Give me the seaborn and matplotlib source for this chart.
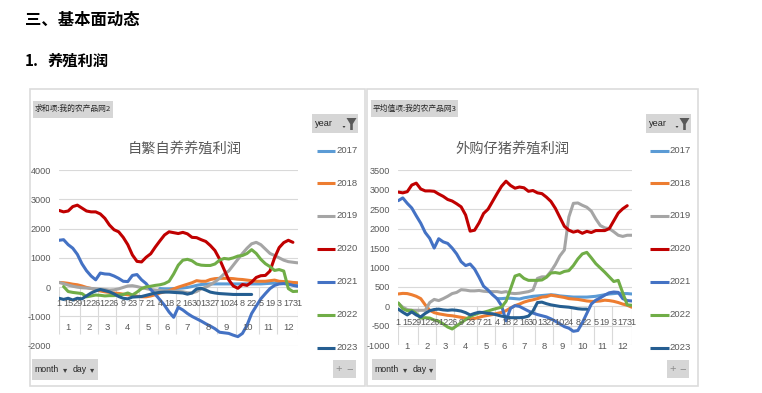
import numpy as np
import pandas as pd
import matplotlib
matplotlib.use("Agg")
import matplotlib.pyplot as plt
import seaborn as sns
from matplotlib import font_manager
from matplotlib.patches import Rectangle, Polygon
from matplotlib.lines import Line2D

nan = np.nan

# ---------------- data ----------------
years = ['2017', '2018', '2019', '2020', '2021', '2022', '2023']
colors = ['#5B9BD5', '#ED7D31', '#A5A5A5', '#C00000', '#4472C4', '#70AD47', '#255E91']

week_month = [1]*5 + [2]*4 + [3]*4 + [4]*5 + [5]*4 + [6]*4 + [7]*5 + [8]*4 + [9]*4 + [10]*5 + [11]*4 + [12]*5
week_day = [1, 8, 15, 22, 29, 5, 12, 19, 26, 5, 12, 19, 26, 2, 9, 16, 23, 30, 7, 14, 21, 28,
            4, 11, 18, 25, 2, 9, 16, 23, 30, 6, 13, 20, 27, 3, 10, 17, 24, 1, 8, 15, 22, 29,
            5, 12, 19, 26, 3, 10, 17, 24, 31]

# chart 1: 自繁自养养殖利润
self_2017 = [nan]*22 + [-50, -60, -60, -50, -40, -30, -10, 20, 60, 90, 100, 110, 110, 110, 110, 110,
                        110, 110, 110, 110, 110, 110, 110, 120, 130, 140, 150, 150, 140, 130, 120]
self_2018 = [160, 150, 130, 100, 80, 40, -10, -45, -90, -130,
             -160, -180, -200, -215, -240, -260, -280, -310, -330, -330,
             -300, -260, -200, -160, -120, -60, 0, 50, 100, 150,
             220, 200, 200, 260, 290, 300, 300, 300, 290, 270,
             260, 240, 220, 200, 200, 200, 220, 240, 200, 190,
             180, 160, 150]
self_2019 = [160, 120, 70, 30, 0, -20, -30, -45, -55, -70,
             -80, -100, -90, -60, -10, 40, 50, 20, -20, -50,
             -80, -100, -115, -125, -135, -140, -145, -160, -190, -200,
             -150, -60, 0, 80, 180, 300, 450, 550, 750, 950,
             1150, 1330, 1480, 1530, 1450, 1300, 1150, 1080, 1000, 920,
             870, 850, 830]
self_2020 = [2620, 2570, 2600, 2750, 2800, 2700, 2600, 2570, 2570, 2500,
             2350, 2120, 1960, 1890, 1700, 1450, 1100, 880, 860, 1020,
             1140, 1370, 1580, 1780, 1890, 1860, 1830, 1870, 1820, 1700,
             1690, 1620, 1560, 1420, 1250, 960, 600, 250, 40, -40,
             90, 60, 170, 330, 390, 400, 550, 1000, 1350, 1520,
             1600, 1530, nan]
self_2021 = [1600, 1620, 1450, 1330, 1120, 800, 560, 380, 250, 480,
             450, 440, 380, 300, 200, 190, 400, 430, 250, 120,
             -80, -250, -430, -620, -850, -1030, -690, -780, -900, -1000,
             -1080, -1160, -1250, -1330, -1420, -1540, -1560, -1580, -1640, -1690,
             -1580, -1300, -900, -650, -400, -220, -50, 60, 110, 120,
             100, 60, 30]
self_2022 = [nan, 20, -150, -180, -200, -220, -330, -300, -270, -280,
             -300, -290, -290, -270, -250, -200, -270, -170, -50, 10,
             30, 60, 80, 120, 200, 450, 750, 920, 950, 900,
             790, 750, 740, 740, 790, 920, 980, 960, 1000, 1060,
             1080, 1150, 1280, 1150, 950, 800, 700, 570, 600, 550,
             -50, -150, -140]
self_2023 = [-380, -420, -380, -440, -380, -400, -300, -200, -130, -80,
             -120, -160, -230, -320, -380, -400, -340, -330, -320, -280,
             -240, -200, -180, -170, -170, -180, -190, -200, -240, -200,
             -60, -40, -100, -170, -200, -220, -230, -240, -250, -250,
             -250, -250, -250] + [nan]*10

# chart 2: 外购仔猪养殖利润
buy_2017 = [nan]*22 + [200, 200, 210, 210, 200, 190, 220, 240, 260, 270, 280, 290, 300, 290, 270, 260,
                       250, 240, 240, 240, 240, 250, 260, 280, 300, 320, 330, 340, 330, 330, 320]
buy_2018 = [320, 335, 330, 300, 260, 200, 40, -100, -160, -190,
            -210, -230, -240, -260, -280, -300, -320, -310, -280, -250,
            -230, -210, -180, -155, -110, -40, 20, 60, 110, 145,
            170, 200, 240, 250, 290, 270, 250, 230, 200, 190,
            180, 160, 140, 130, 130, 140, 160, 150, 130, 100,
            60, 30, -20]
buy_2019 = [80, -20, -80, -100, -100, -100, -100, 100, 180, 150,
            200, 260, 330, 360, 430, 420, 400, 400, 410, 390,
            380, 380, 380, 360, 380, 340, 330, 340, 360, 380,
            420, 720, 760, 760, 900, 1080, 1300, 1450, 2300, 2650,
            2660, 2600, 2550, 2450, 2250, 2080, 2020, 2000, 1920, 1830,
            1800, 1830, 1830]
buy_2020 = [2940, 2920, 2950, 3120, 3170, 3020, 2970, 2970, 2960, 2890,
            2830, 2750, 2710, 2640, 2560, 2350, 1935, 1960, 2150, 2390,
            2500, 2700, 2900, 3090, 3220, 3110, 3040, 3070, 3050, 2960,
            2980, 2920, 2900, 2810, 2700, 2520, 2290, 2060, 1960, 1910,
            1940, 1880, 1930, 1900, 1950, 1950, 1950, 2000, 2200, 2400,
            2510, 2590, nan]
buy_2021 = [2720, 2790, 2650, 2530, 2330, 2140, 1900, 1750, 1500, 1740,
            1660, 1620, 1500, 1350, 1150, 1050, 1090, 960, 750, 520,
            420, 300, 200, 20, -370, -50, 20, 0, -60, -120,
            -170, -210, -240, -270, -320, -380, -450, -520, -560, -640,
            -620, -420, -180, 60, 160, 220, 290, 350, 370, 360,
            200, 150, 140]
buy_2022 = [90, -60, -110, -100, -180, -300, -290, -300, -350, -380,
            -450, -530, -580, -500, -420, -340, -260, -210, -170, -150,
            -120, -80, -50, -20, 130, 450, 780, 820, 720, 670,
            670, 670, 680, 750, 860, 870, 850, 900, 920, 1050,
            1220, 1350, 1390, 1250, 1100, 990, 880, 760, 640, 670,
            350, 40, 30]
buy_2023 = [-70, -150, -220, -140, -220, -270, -180, -110, -80, -70,
            -90, -100, -90, -100, -120, -160, -220, -180, -150, -160,
            -180, -190, -220, -250, -270, -290, -290, -290, -280, -250,
            -120, 100, 110, 70, 40, 20, 0, -10, -20, -40,
            -60, -70, -70] + [nan]*10

self_series = [self_2017, self_2018, self_2019, self_2020, self_2021, self_2022, self_2023]
buy_series = [buy_2017, buy_2018, buy_2019, buy_2020, buy_2021, buy_2022, buy_2023]

# ---------------- style ----------------
sns.set_theme(style="white")
avail = {f.name for f in font_manager.fontManager.ttflist}
narrow = next((n for n in ['Liberation Sans Narrow', 'DejaVu Sans Condensed', 'Liberation Sans']
               if n in avail), 'DejaVu Sans')
CJK = 'Noto Sans CJK SC'
plt.rcParams['font.family'] = [CJK, 'DejaVu Sans']
NUM = [narrow, 'DejaVu Sans']
GREY_TXT = '#595959'
GRID = '#D9D9D9'
BTN = '#D6D6D6'

W, H = 762, 393
fig = plt.figure(figsize=(W / 100, H / 100), dpi=100)
fig.patch.set_facecolor('white')
bg = fig.add_axes([0, 0, 1, 1])
bg.set_xlim(0, W)
bg.set_ylim(H, 0)
bg.axis('off')


def frac(x0, y0, x1, y1):
    return [x0 / W, 1 - y1 / H, (x1 - x0) / W, (y1 - y0) / H]


def box(x0, y0, x1, y1, fc, ec='none', lw=0):
    bg.add_patch(Rectangle((x0, y0), x1 - x0, y1 - y0, facecolor=fc, edgecolor=ec, linewidth=lw))


# headings
bg.text(25, 20, '三、基本面动态', fontsize=11.8, fontweight='bold', color='black', va='center', ha='left')
bg.text(25, 61, '1.', fontsize=11, fontweight='bold', color='black', va='center', ha='left')
bg.text(48, 61, '养殖利润', fontsize=11, fontweight='bold', color='black', va='center', ha='left')

charts = [
    dict(series=self_series, ax_px=(59, 170, 297.5, 345.7), ylim=(-2000, 4000), ystep=1000,
         title='自繁自养养殖利润', title_x=185, panel=(30, 89, 365, 386),
         pivot='求和项:我的农产品网2', pivot_box=(33, 101, 113, 117.5),
         year_box=(312, 114, 358, 133), legend_x=316.5, pm_box=(333, 360, 356, 378),
         md_box=(32, 359, 98, 380)),
    dict(series=buy_series, ax_px=(398.3, 170.3, 631.7, 345.3), ylim=(-1000, 3500), ystep=500,
         title='外购仔猪养殖利润', title_x=512, panel=(367, 89, 698, 386),
         pivot='平均值项:我的农产品网3', pivot_box=(371, 100, 458, 117),
         year_box=(646, 114, 691, 133), legend_x=650, pm_box=(667, 360, 689, 378),
         md_box=(371.5, 359, 436, 380)),
]

legend_y = [150.7, 183, 215.7, 248.5, 281.5, 314.5, 347.5]
month_bounds = np.cumsum([5, 4, 4, 5, 4, 4, 5, 4, 4, 5, 4, 5])
n_weeks = len(week_day)

for cfg in charts:
    # panel frame
    px0, py0, px1, py1 = cfg['panel']
    box(px0, py0, px1, py1, 'white', ec='#DCDCDC', lw=1.2)
    # pivot field label
    bx0, by0, bx1, by1 = cfg['pivot_box']
    box(bx0, by0, bx1, by1, BTN)
    bg.text(bx0 + 1.5, (by0 + by1) / 2, cfg['pivot'], fontsize=5.6, color='#262626', va='center', ha='left')
    # title
    bg.text(cfg['title_x'], 150, cfg['title'], fontsize=10.3, color=GREY_TXT, va='center', ha='center')
    # year filter button
    yx0, yy0, yx1, yy1 = cfg['year_box']
    box(yx0, yy0, yx1, yy1, BTN)
    bg.text(yx0 + 2.5, (yy0 + yy1) / 2, 'year', fontsize=6.6, family=NUM, color='#262626', va='center', ha='left')
    fx = yx1 - 11.5
    bg.add_patch(Polygon([(fx, yy0 + 4), (fx + 10, yy0 + 4), (fx + 6.3, yy0 + 10), (fx + 6.3, yy1 - 3),
                          (fx + 3.7, yy1 - 3), (fx + 3.7, yy0 + 10)], closed=True, facecolor='#595959',
                         edgecolor='none'))
    bg.add_patch(Polygon([(fx - 4, yy1 - 7), (fx - 1, yy1 - 7), (fx - 2.5, yy1 - 5)], closed=True,
                         facecolor='#404040', edgecolor='none'))
    # legend
    lx = cfg['legend_x']
    for yr, col, ly in zip(years, colors, legend_y):
        bg.add_line(Line2D([lx, lx + 18.5], [ly, ly], color=col, linewidth=2.2, solid_capstyle='butt'))
        bg.text(lx + 19.5, ly, yr, fontsize=6.8, family=NUM, color=GREY_TXT, va='center', ha='left')
    # +/- button
    mx0, my0, mx1, my1 = cfg['pm_box']
    box(mx0, my0, mx1, my1, BTN)
    bg.text(mx0 + 6, (my0 + my1) / 2, '+', fontsize=8, family=NUM, color='#8C8C8C', va='center', ha='center')
    bg.text(mx1 - 6, (my0 + my1) / 2, '−', fontsize=8, family=NUM, color='#8C8C8C', va='center', ha='center')
    # month/day button
    dx0, dy0, dx1, dy1 = cfg['md_box']
    box(dx0, dy0, dx1, dy1, BTN)
    dyc = (dy0 + dy1) / 2
    bg.text(dx0 + 2.5, dyc, 'month', fontsize=6.3, family=NUM, color='#262626', va='center', ha='left')
    bg.text(dx0 + 33.5, dyc, '▾', fontsize=6, family=['DejaVu Sans'], color='#404040', va='center', ha='center')
    bg.text(dx0 + 41, dyc, 'day', fontsize=6.3, family=NUM, color='#262626', va='center', ha='left')
    bg.text(dx0 + 60, dyc, '▾', fontsize=6, family=['DejaVu Sans'], color='#404040', va='center', ha='center')

    # ---- data axes ----
    ax0, ay0, ax1, ay1 = cfg['ax_px']
    ax = fig.add_axes(frac(ax0, ay0, ax1, ay1))
    ax.set_facecolor('none')
    ymin, ymax = cfg['ylim']
    df = pd.DataFrame({
        'week': np.tile(np.arange(n_weeks), len(years)),
        'year': np.repeat(years, n_weeks),
        'value': np.concatenate([np.asarray(s, dtype=float) for s in cfg['series']]),
    }).dropna()
    sns.lineplot(data=df, x='week', y='value', hue='year', hue_order=years,
                 palette=dict(zip(years, colors)), estimator=None, linewidth=2.2,
                 legend=False, ax=ax, solid_joinstyle='round', solid_capstyle='round')
    ax.set_xlim(0, n_weeks - 1)
    ax.set_ylim(ymin, ymax)
    yt = np.arange(ymin, ymax + 1, cfg['ystep'])
    ax.set_yticks(yt)
    ax.set_yticklabels([str(int(v)) for v in yt])
    ax.tick_params(axis='y', length=0, pad=5.8, labelsize=6.6, labelcolor=GREY_TXT)
    for t in ax.get_yticklabels():
        t.set_family(NUM)
    ax.set_xticks([])
    ax.set_xlabel('')
    ax.set_ylabel('')
    ax.grid(axis='y', color=GRID, linewidth=0.8)
    ax.grid(axis='x', visible=False)
    ax.set_axisbelow(True)
    for s in ax.spines.values():
        s.set_visible(False)

    # multi-level category axis at y = 0
    px_per_unit = (ay1 - ay0) / (ymax - ymin)
    sep_len = 47 / px_per_unit
    seps = [0] + [b - 0.5 for b in month_bounds[:-1]] + [n_weeks - 1]
    ax.vlines(seps, -sep_len, 0, colors=GRID, linewidth=0.8, zorder=1)
    for i in range(0, n_weeks, 2):
        ax.annotate(str(week_day[i]), xy=(i, 0), xytext=(0, -16.5 * 0.72), textcoords='offset points',
                    ha='center', va='center', fontsize=6.6, family=NUM, color=GREY_TXT)
    starts = [0] + list(month_bounds[:-1])
    for m, (s0, s1) in enumerate(zip(starts, month_bounds), start=1):
        ax.annotate(str(m), xy=((s0 + s1 - 1) / 2, 0), xytext=(0, -40 * 0.72), textcoords='offset points',
                    ha='center', va='center', fontsize=6.8, family=NUM, color=GREY_TXT)

fig.savefig('out.png', dpi=100, facecolor='white')
